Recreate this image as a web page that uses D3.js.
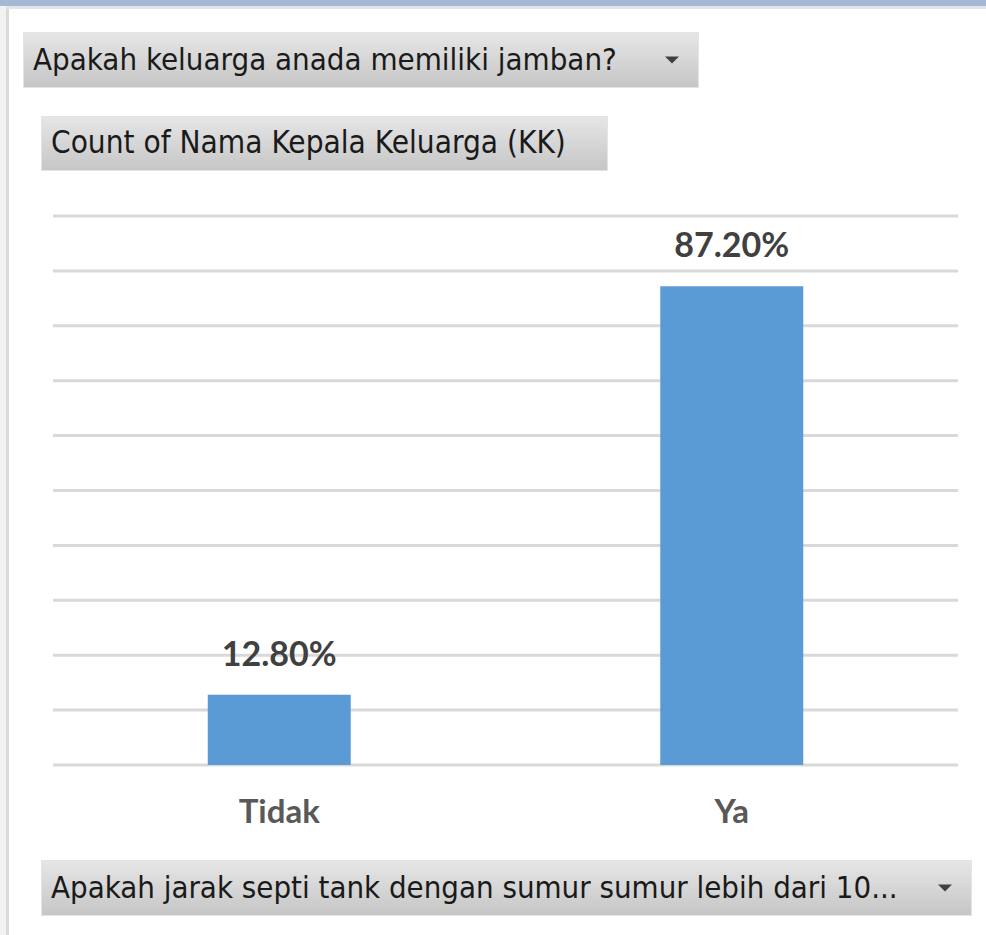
<!DOCTYPE html>
<html>
<head>
<meta charset="utf-8">
<script src="https://cdn.jsdelivr.net/npm/d3@7"></script>
<style>
  html, body { margin: 0; padding: 0; background: #fff; }
  svg { display: block; }
</style>
</head>
<body>
<svg width="986" height="935"></svg>
<script>

var categories = ["Tidak", "Ya"];
var values = [12.8, 87.2];
var yTicks = [0, 10, 20, 30, 40, 50, 60, 70, 80, 90, 100];

var filterLabel = "Apakah keluarga anada memiliki jamban?";
var valueLabel = "Count of Nama Kepala Keluarga (KK)";
var axisLabel = "Apakah jarak septi tank dengan sumur sumur lebih dari 10...";

var W = 986, H = 935;
var plot = { left: 53, right: 958, top: 216, bottom: 765 };

var svg = d3.select("svg");

var defs = svg.append("defs");
var grad = defs.append("linearGradient")
    .attr("id", "btn").attr("x1", 0).attr("y1", 0).attr("x2", 0).attr("y2", 1);
grad.append("stop").attr("offset", "0%").attr("stop-color", "#e6e6e6");
grad.append("stop").attr("offset", "100%").attr("stop-color", "#c6c6c6");

// window frame
svg.append("rect").attr("x", 0).attr("y", 0).attr("width", W).attr("height", H).attr("fill", "#fff");
svg.append("rect").attr("x", 0).attr("y", 0).attr("width", 6).attr("height", H).attr("fill", "#f2f2f2");
svg.append("rect").attr("x", 6).attr("y", 6).attr("width", 3).attr("height", H).attr("fill", "#dadada");
svg.append("rect").attr("x", 0).attr("y", 0).attr("width", W).attr("height", 6).attr("fill", "#a4b9d4");
svg.append("rect").attr("x", 6).attr("y", 6).attr("width", W).attr("height", 3).attr("fill", "#e2e6eb");

// fit text into a width by changing its font size
function fitText(sel, width) {
  var node = sel.node();
  var size = parseFloat(sel.attr("font-size"));
  var w = node.getComputedTextLength();
  if (w > 0) sel.attr("font-size", size * width / w);
}

function button(x, y, w, h, label, textW, arrow) {
  var g = svg.append("g");
  g.append("rect")
      .attr("x", x + 0.5).attr("y", y + 0.5)
      .attr("width", w).attr("height", h)
      .attr("fill", "url(#btn)")
      .attr("stroke", "#e4e4e4");
  var t = g.append("text")
      .attr("x", x + 10).attr("y", y + h / 2 + 10)
      .attr("font-family", "'DejaVu Sans Condensed', 'DejaVu Sans', Tahoma, sans-serif")
      .attr("font-size", 26)
      .attr("fill", "#1a1a1a")
      .text(label);
  fitText(t, textW);
  if (arrow) {
    var ax = x + w - 26, ay = y + h / 2;
    g.append("path")
        .attr("d", "M" + (ax - 7) + "," + (ay - 3) + "L" + (ax + 7) + "," + (ay - 3) + "L" + ax + "," + (ay + 4) + "Z")
        .attr("fill", "#404040");
  }
}

button(23, 32, 675, 55, filterLabel, 584, true);
button(41, 116, 566, 54, valueLabel, 515, false);
button(41, 860, 930, 55, axisLabel, 847, true);

var x = d3.scaleBand()
    .domain(categories)
    .range([plot.left, plot.right])
    .paddingInner(0.684)
    .paddingOuter(0.342);

var y = d3.scaleLinear()
    .domain([0, 100])
    .range([plot.bottom, plot.top]);

svg.append("g").selectAll("line")
    .data(yTicks)
    .join("line")
    .attr("x1", plot.left).attr("x2", plot.right)
    .attr("y1", function(d) { return y(d); })
    .attr("y2", function(d) { return y(d); })
    .attr("stroke", "#d9d9d9")
    .attr("stroke-width", 3);

svg.append("g").selectAll("rect")
    .data(values)
    .join("rect")
    .attr("x", function(d, i) { return x(categories[i]); })
    .attr("y", function(d) { return y(d); })
    .attr("width", x.bandwidth())
    .attr("height", function(d) { return y(0) - y(d); })
    .attr("fill", "#5b9bd5");

svg.append("g").selectAll("text")
    .data(values)
    .join("text")
    .attr("x", function(d, i) { return x(categories[i]) + x.bandwidth() / 2; })
    .attr("y", function(d) { return y(d) - 29; })
    .attr("text-anchor", "middle")
    .attr("font-family", "Lato, 'Open Sans', sans-serif")
    .attr("font-weight", "bold")
    .attr("font-size", 31)
    .attr("fill", "#404040")
    .text(function(d) { return d.toFixed(2) + "%"; })
    .each(function() { fitText(d3.select(this), 115); });

svg.append("g").selectAll("text")
    .data(categories)
    .join("text")
    .attr("x", function(d) { return x(d) + x.bandwidth() / 2; })
    .attr("y", 823)
    .attr("text-anchor", "middle")
    .attr("font-family", "Lato, 'Open Sans', sans-serif")
    .attr("font-weight", "bold")
    .attr("font-size", 33)
    .attr("fill", "#595959")
    .text(function(d) { return d; });

</script>
</body>
</html>
